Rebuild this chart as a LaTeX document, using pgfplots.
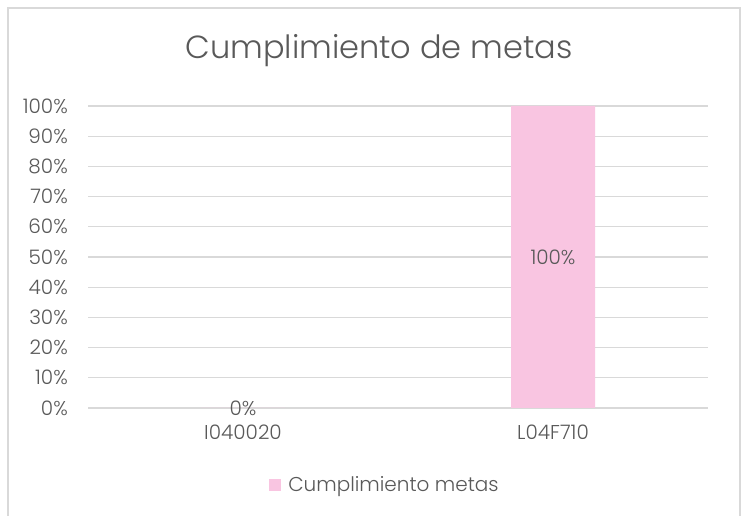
\documentclass[border=0pt]{standalone}
\usepackage{fontspec}
\setmainfont{Poppins}[UprightFont=* Light]
\usepackage{pgfplots}
\pgfplotsset{compat=1.18}
\definecolor{txt}{HTML}{595959}
\definecolor{gridc}{HTML}{D9D9D9}
\definecolor{barpink}{HTML}{F9C5E1}
\begin{document}
\begin{tikzpicture}
\clip (0,0) rectangle (754bp,516bp);
\fill[white] (0,0) rectangle (754bp,516bp);
\draw[gridc, line width=1.2bp] (8bp,508bp) rectangle (740bp,-20bp);
\node[anchor=base, text=txt, inner sep=0pt, font=\fontsize{32bp}{38bp}\selectfont] at (379bp,457bp) {Cumplimiento de metas};
\begin{axis}[
  at={(88bp,108bp)}, anchor=south west, scale only axis,
  width=620bp, height=302bp,
  xmin=-0.5, xmax=1.5, ymin=0, ymax=100,
  axis line style={draw=none},
  major tick length=0pt,
  xtick={0,1}, xticklabels={I040020,L04F710},
  ytick={0,10,...,100},
  yticklabels={0\%,10\%,20\%,30\%,40\%,50\%,60\%,70\%,80\%,90\%,100\%},
  ymajorgrids, grid style={gridc, line width=1.2bp},
  tick label style={text=txt, font=\fontsize{20bp}{24bp}\selectfont},
  yticklabel style={inner sep=0pt, anchor=east, xshift=-20bp},
  xticklabel style={inner sep=0pt, anchor=north, yshift=-17bp},
  legend style={at={(0.479,-0.255)}, anchor=center, draw=none, fill=none,
    font=\fontsize{20bp}{24bp}\selectfont, text=txt,
    /tikz/every odd column/.append style={column sep=5bp}},
  legend image code/.code={\fill[barpink] (0bp,-6bp) rectangle (12bp,6bp);},
]
\addplot[ybar, bar width=84bp, fill=barpink, draw=none] coordinates {(0,0) (1,100)};
\addlegendentry{Cumplimiento metas}
\addplot[only marks, mark=none, forget plot, point meta=explicit symbolic,
  nodes near coords,
  every node near coord/.style={anchor=center, text=txt, inner sep=0pt, font=\fontsize{20bp}{24bp}\selectfont}]
  coordinates {(0,0) [0\%] (1,50) [100\%]};
\end{axis}
\end{tikzpicture}
\end{document}
